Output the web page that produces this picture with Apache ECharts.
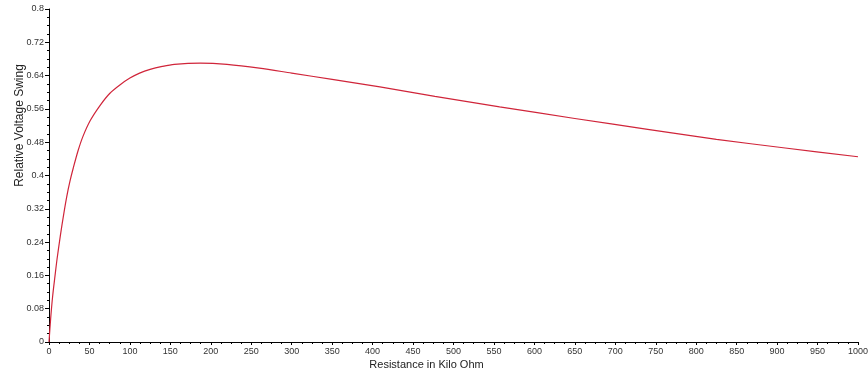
<!DOCTYPE html>
<html>
<head>
<meta charset="utf-8">
<script src="https://cdn.jsdelivr.net/npm/echarts@6/dist/echarts.min.js"></script>
<style>
  html, body { margin: 0; padding: 0; background: #fff; }
  #chart { width: 868px; height: 369px; }
</style>
</head>
<body>
<div id="chart"></div>
<script>
// resistance in kilo ohm and the relative voltage swing
const resistance = [0, 2, 4.5, 7.5, 10, 14, 18, 22, 26, 30, 36, 42, 51, 63, 75, 88, 100, 112, 125, 140, 155, 187, 220, 260, 300, 350, 409, 477, 557, 650, 740, 825, 910, 1000]
const voltage = [0, 0.055, 0.11, 0.16, 0.2, 0.255, 0.305, 0.35, 0.387, 0.418, 0.46, 0.494, 0.532, 0.568, 0.597, 0.618, 0.634, 0.646, 0.655, 0.662, 0.667, 0.67, 0.667, 0.658, 0.646, 0.631, 0.613, 0.59, 0.565, 0.537, 0.511, 0.487, 0.466, 0.445]

const chart = echarts.init(document.getElementById('chart'))

chart.setOption({
  animation: false,
  grid: { left: 49, right: 10, top: 9, bottom: 27, outerBoundsMode: 'none' },
  xAxis: {
    type: 'value',
    min: 0,
    max: 1000,
    interval: 50,
    name: 'Resistance in Kilo Ohm',
    nameLocation: 'middle',
    nameGap: 17,
    nameMoveOverlap: false,
    nameTextStyle: { fontSize: 11, color: '#222', padding: [0, 54, 0, 0], fontFamily: 'Liberation Sans' },
    axisLine: { lineStyle: { color: '#000', width: 1 } },
    axisTick: { length: 3, lineStyle: { color: '#000' } },
    minorTick: { show: true, splitNumber: 4, length: 2, lineStyle: { color: '#000' } },
    splitLine: { show: false },
    axisLabel: { fontSize: 9, color: '#333', margin: 5, fontFamily: 'Liberation Sans', formatter: v => String(v) }
  },
  yAxis: {
    type: 'value',
    min: 0,
    max: 0.8,
    interval: 0.08,
    name: 'Relative Voltage Swing',
    nameLocation: 'middle',
    nameRotate: 90,
    nameGap: 23,
    nameMoveOverlap: false,
    nameTextStyle: { fontSize: 12, color: '#222', padding: [0, 0, 0, 100], fontFamily: 'Liberation Sans' },
    axisLine: { show: true, lineStyle: { color: '#000', width: 1 } },
    axisTick: { show: true, length: 4, lineStyle: { color: '#000' } },
    minorTick: { show: true, splitNumber: 4, length: 2, lineStyle: { color: '#000' } },
    splitLine: { show: false },
    axisLabel: { fontSize: 9, color: '#333', margin: 5, fontFamily: 'Liberation Sans' }
  },
  series: [
    {
      type: 'line',
      data: resistance.map((r, i) => [r, voltage[i]]),
      smooth: 0.3,
      showSymbol: false,
      lineStyle: { color: '#d0253a', width: 1.2 }
    }
  ]
})
</script>
</body>
</html>
